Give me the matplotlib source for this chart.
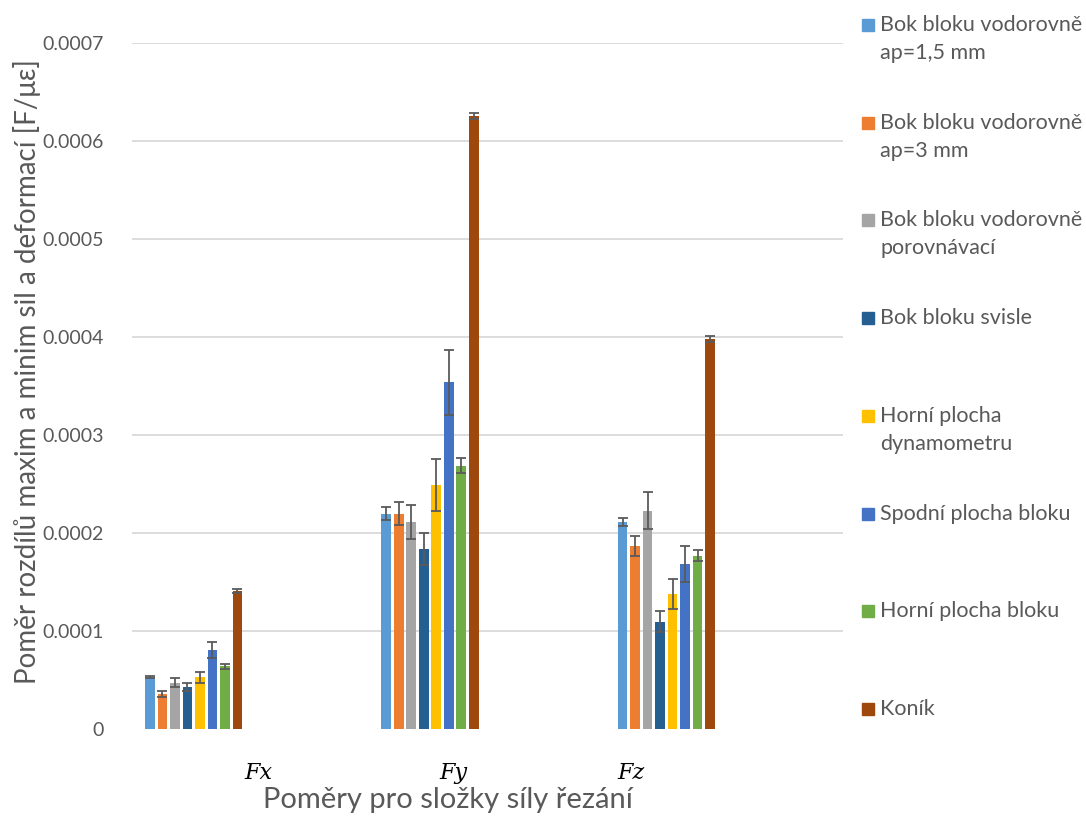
import matplotlib
matplotlib.use("Agg")
import matplotlib.pyplot as plt
from matplotlib.patches import Rectangle
import numpy as np

plt.rcParams['font.family'] = ['Lato', 'DejaVu Sans']

# Force components
components = ["Fx", "Fy", "Fz"]

series_names = [
    "Bok bloku vodorovně\nap=1,5 mm",
    "Bok bloku vodorovně\nap=3 mm",
    "Bok bloku vodorovně\nporovnávací",
    "Bok bloku svisle",
    "Horní plocha\ndynamometru",
    "Spodní plocha bloku",
    "Horní plocha bloku",
    "Koník",
]
series_colors = ["#5B9BD5", "#ED7D31", "#A5A5A5", "#255E91",
                 "#FFC000", "#4472C4", "#70AD47", "#9E480E"]

# Ratio of (max - min) force to (max - min) strain, per series: [Fx, Fy, Fz]
values = [
    [0.0000534, 0.0002197, 0.0002112],
    [0.0000357, 0.0002197, 0.0001867],
    [0.0000473, 0.0002112, 0.0002228],
    [0.0000429, 0.0001837, 0.0001095],
    [0.0000527, 0.0002490, 0.0001378],
    [0.0000806, 0.0003537, 0.0001687],
    [0.0000640, 0.0002687, 0.0001769],
    [0.0001410, 0.0006255, 0.0003980],
]
errors = [
    [0.0000010, 0.0000068, 0.0000044],
    [0.0000027, 0.0000116, 0.0000102],
    [0.0000044, 0.0000177, 0.0000190],
    [0.0000040, 0.0000167, 0.0000109],
    [0.0000058, 0.0000265, 0.0000153],
    [0.0000078, 0.0000328, 0.0000184],
    [0.0000024, 0.0000075, 0.0000058],
    [0.0000020, 0.0000030, 0.0000033],
]

y_ticks = [0, 0.0001, 0.0002, 0.0003, 0.0004, 0.0005, 0.0006, 0.0007]
y_tick_labels = ["0", "0.0001", "0.0002", "0.0003", "0.0004", "0.0005", "0.0006", "0.0007"]

W, H = 1086, 816
fig = plt.figure(figsize=(W / 100, H / 100), dpi=100)
ax = fig.add_axes([132 / W, 87 / H, 711 / W, 686 / H])

text_gray = "#595959"
pitch = 0.0529
bar_w = 0.041
x = np.arange(len(components))
n = len(series_names)
for j in range(n):
    offs = x + (j - (n - 1) / 2) * pitch
    ax.bar(offs, values[j], width=bar_w, color=series_colors[j], zorder=3)
    ax.errorbar(offs, values[j], yerr=errors[j], fmt="none", ecolor="#5a5a5a",
                elinewidth=1.3, capsize=3.5, capthick=1.3, zorder=4)

ax.set_xlim(-0.261, 2.748)
ax.set_ylim(0, 0.0007)
ax.set_yticks(y_ticks)
ax.set_yticklabels(y_tick_labels, color=text_gray, fontsize=14)
ax.tick_params(axis="y", length=0, pad=20)
ax.yaxis.grid(True, color="#D9D9D9", linewidth=1.3, zorder=0)
ax.yaxis.get_gridlines()[0].set_visible(False)
ax.set_axisbelow(True)
for s in ax.spines.values():
    s.set_visible(False)

# Component labels under the groups
label_pos = [0.272, 1.10, 1.85]
ax.set_xticks(label_pos)
ax.set_xticklabels(components, fontsize=16, style="italic",
                   family=["DejaVu Serif"], color="black")
ax.tick_params(axis="x", length=0, pad=24)

fig.text(27 / W, 1 - 372 / H, "Poměr rozdílů maxim a minim sil a deformací [F/με]",
         rotation=90, ha="center", va="center", fontsize=20, color=text_gray)
fig.text(448 / W, 1 - 800 / H, "Poměry pro složky síly řezání",
         ha="center", va="center", fontsize=21, color=text_gray)

# Legend on the right
for j, name in enumerate(series_names):
    yc = 25 + j * 97.7
    fig.add_artist(Rectangle((862 / W, 1 - (yc + 6) / H), 12 / W, 12 / H,
                             transform=fig.transFigure, color=series_colors[j]))
    for k, line in enumerate(name.split("\n")):
        fig.text(880 / W, 1 - (yc + k * 28) / H, line, ha="left", va="center",
                 fontsize=15.5, color=text_gray)

fig.savefig("out.png", dpi=100)
